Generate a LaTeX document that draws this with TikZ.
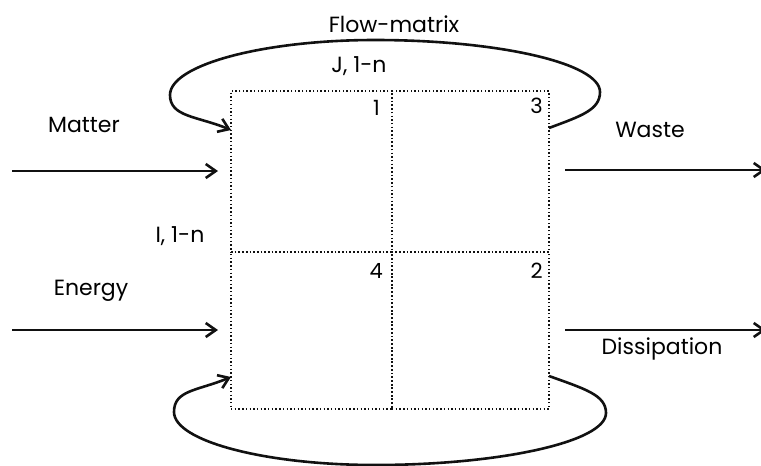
\documentclass[tikz,border=0pt]{standalone}
\usepackage{fontspec}
\setmainfont{Poppins}
\usetikzlibrary{arrows.meta,positioning,calc}
\definecolor{fmInk}{HTML}{111111}
\tikzset{
  cell/.style={draw=fmInk, line width=1.4pt, dash pattern=on 1.4pt off 2.3pt,
    inner sep=0pt, outer sep=0pt, anchor=north west},
  num/.style={anchor=north east, inner sep=0pt, font=\fontsize{21}{24}\selectfont},
  lbl/.style={anchor=base, inner sep=0pt, font=\fontsize{22}{26}\selectfont},
  flow/.style={-{Straight Barb[length=10pt,width=14pt]}, line width=2.6pt, fmInk}
}
\begin{document}
\begin{tikzpicture}[x=1pt, y=-1pt]
  \useasboundingbox (0,0) rectangle (761,466);
  % the flow matrix, four quadrants
  \node[cell, minimum width=161pt, minimum height=161pt] (c1) at (231,91) {};
  \node[cell, minimum width=157pt, minimum height=161pt] (c3) at (c1.north east) {};
  \node[cell, minimum width=161pt, minimum height=157pt] (c4) at (c1.south west) {};
  \node[cell, minimum width=157pt, minimum height=157pt] (c2) at (c1.south east) {};
  \node[num] (n1) at ([xshift=-12pt,yshift=-9pt]c1.north east) {1};
  \node[num] (n3) at ([xshift=-6pt,yshift=-7pt]c3.north east) {3};
  \node[num] (n4) at ([xshift=-9pt,yshift=-11pt]c4.north east) {4};
  \node[num] (n2) at ([xshift=-6pt,yshift=-11pt]c2.north east) {2};
  \node[lbl] (flowm) at (394,32) {Flow-matrix};
  \node[lbl] (jn) at (359,72) {J, 1-n};
  \node[lbl] (matter) at (84,132) {Matter};
  \node[lbl] (in) at (180,242) {I, 1-n};
  \node[lbl] (energy) at (91,295) {Energy};
  \node[lbl] (waste) at (650,137) {Waste};
  \node[lbl] (dissip) at (662,354) {Dissipation};
  \coordinate (mIn) at (12,171);
  \coordinate (eIn) at (12,330);
  \coordinate (wOut) at (766,170);
  \coordinate (dOut) at (766,330);
  \coordinate (topR) at (600,92);
  \coordinate (topA) at (375,40);
  \coordinate (topL) at (170,95);
  \coordinate (botR) at (606,413);
  \coordinate (botA) at (375,465);
  \coordinate (botL) at (174,412);
  \foreach \s/\e in {mIn/c1, eIn/c4}{\draw[flow, shorten >=13pt] (\s) -- (\s -| \e.west);}
  \foreach \s/\e in {c3/wOut, c2/dOut}{\draw[flow, shorten <=16pt] (\s.east |- \e) -- (\e);}
  % feedback loops round the matrix
  \draw[flow] ([yshift=-37pt]c3.north east) .. controls +(32,-12) and +(0,18) .. (topR)
    .. controls +(0,-29) and +(122,0) .. (topA) .. controls +(-112,0) and +(0,-30) .. (topL)
    .. controls +(0,22) and +(-34,-14) .. ([yshift=-39pt]c1.north west);
  \draw[flow] ([yshift=33pt]c2.south east) .. controls +(36,13) and +(0,-18) .. (botR)
    .. controls +(0,29) and +(124,0) .. (botA) .. controls +(-110,0) and +(0,29) .. (botL)
    .. controls +(0,-22) and +(-34,14) .. ([yshift=32pt]c4.south west);
\end{tikzpicture}
\end{document}
